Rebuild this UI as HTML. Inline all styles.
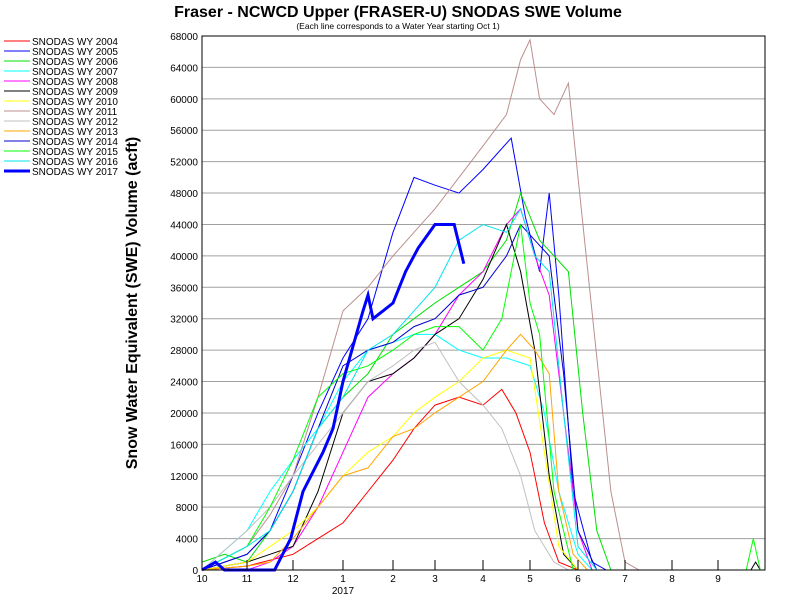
<!DOCTYPE html>
<html><head><meta charset="utf-8"><style>
body{margin:0;background:#fff;width:800px;height:600px;overflow:hidden;font-family:"Liberation Sans",Arial,sans-serif}
</style></head><body>
<svg id="c" width="800" height="600" xmlns="http://www.w3.org/2000/svg" style="font-family:'Liberation Sans',Arial,sans-serif">
<text x="398" y="17" text-anchor="middle" font-size="16" font-weight="bold">Fraser - NCWCD Upper (FRASER-U) SNODAS SWE Volume</text>
<text x="398" y="29" text-anchor="middle" font-size="8.5">(Each line corresponds to a Water Year starting Oct 1)</text>
<text transform="translate(137,303) rotate(-90)" text-anchor="middle" font-size="16" font-weight="bold">Snow Water Equivalent (SWE) Volume (acft)</text>
<g id="grid"></g><g id="series"></g><g id="axes"></g><g id="legend"></g>
</svg>
<script>
const yTicks=[0,4000,8000,12000,16000,20000,24000,28000,32000,36000,40000,44000,48000,52000,56000,60000,64000,68000];
const monthLabels=["10","11","12","1","2","3","4","5","6","7","8","9"];
const monthPx=[202,247,293,343,393,435,483,530,578,625,672,718,765];
const seriesNames=["SNODAS WY 2004","SNODAS WY 2005","SNODAS WY 2006","SNODAS WY 2007","SNODAS WY 2008","SNODAS WY 2009","SNODAS WY 2010","SNODAS WY 2011","SNODAS WY 2012","SNODAS WY 2013","SNODAS WY 2014","SNODAS WY 2015","SNODAS WY 2016","SNODAS WY 2017"];
const colors=["#ff0000","#0000ff","#00e000","#00ffff","#ff00ff","#000000","#ffff00","#bc8f8f","#c0c0c0","#ffa500","#0000cd","#00ff00","#00e5ee","#0000ff"];
// [month index since Oct 1, thousand acft]
const wy2004=[[0,0],[1,0.5],[2,2],[2.5,4],[3,6],[3.5,10],[4,14],[4.5,18],[5,21],[5.5,22],[6,21],[6.4,23],[6.7,20],[7,15],[7.3,6],[7.6,1],[8,0],[12,0]];
const wy2005=[[0,0],[1,2],[1.5,5],[2,12],[2.5,20],[3,27],[3.5,32],[4,43],[4.5,50],[5,49],[5.5,48],[6,51],[6.6,55],[6.9,45],[7.2,38],[7.4,48],[7.6,35],[7.9,10],[8.3,1],[8.6,0],[12,0]];
const wy2006=[[0,1],[0.5,2],[1,1],[1.5,5],[2,10],[2.5,18],[3,22],[3.5,25],[4,30],[4.5,32],[5,34],[5.5,36],[6,38],[6.5,42],[6.8,48],[7.2,42],[7.5,40],[7.8,38],[8.1,20],[8.4,5],[8.7,0],[12,0]];
const wy2007=[[0,0],[1,5],[1.5,10],[2,14],[2.5,18],[3,24],[3.5,28],[4,29],[4.5,30],[5,30],[5.5,28],[6,27],[6.5,27],[7,26],[7.3,20],[7.6,10],[8,2],[8.3,0],[12,0]];
const wy2008=[[0,0],[1,0],[1.5,1],[2,3],[2.5,8],[3,15],[3.5,22],[4,25],[4.5,27],[5,30],[5.5,35],[6,38],[6.5,44],[6.8,46],[7.1,40],[7.4,35],[7.7,20],[8,5],[8.3,0],[12,0]];
const wy2009=[[0,0],[1,1],[1.5,2],[2,3],[2.5,10],[3,20],[3.5,24],[4,25],[4.5,27],[5,30],[5.5,32],[6,37],[6.5,44],[6.8,38],[7.1,28],[7.4,12],[7.7,2],[8,0],[11.7,0],[11.8,1],[11.9,0],[12,0]];
const wy2010=[[0,0],[1,1],[1.5,3],[2,5],[2.5,8],[3,12],[3.5,15],[4,17],[4.5,20],[5,22],[5.5,24],[6,27],[6.5,28],[7,27],[7.3,15],[7.6,3],[8,0],[12,0]];
const wy2011=[[0,0],[1,3],[1.5,7],[2,12],[2.5,22],[3,33],[3.5,36],[4,40],[4.5,43],[5,46],[5.5,50],[6,54],[6.5,58],[6.8,65],[7,67.5],[7.2,60],[7.5,58],[7.8,62],[8,50],[8.35,30],[8.7,10],[9,1],[9.3,0],[12,0]];
const wy2012=[[0,0],[1,5],[1.5,8],[2,12],[2.5,16],[3,20],[3.5,24],[4,26],[4.5,28],[5,29],[5.5,24],[6,21],[6.4,18],[6.8,12],[7.1,5],[7.5,1],[7.8,0],[12,0]];
const wy2013=[[0,0],[1,0.5],[1.5,1],[2,4],[2.5,8],[3,12],[3.5,13],[4,17],[4.5,18],[5,20],[5.5,22],[6,24],[6.5,28],[6.8,30],[7.1,28],[7.4,25],[7.6,10],[7.9,2],[8.2,0],[12,0]];
const wy2014=[[0,0],[1,2],[1.5,5],[2,10],[2.5,18],[3,26],[3.5,28],[4,29],[4.5,31],[5,32],[5.5,35],[6,36],[6.5,40],[6.8,44],[7.1,42],[7.4,40],[7.7,25],[8,5],[8.4,0],[12,0]];
const wy2015=[[0,0],[1,3],[1.5,8],[2,14],[2.5,22],[3,25],[3.5,26],[4,28],[4.5,30],[5,31],[5.5,31],[6,28],[6.4,32],[6.8,44],[7,34],[7.2,30],[7.5,10],[7.9,0],[11.6,0],[11.75,4],[11.9,0],[12,0]];
const wy2016=[[0,0],[1,3],[1.5,5],[2,10],[2.5,18],[3,22],[3.5,28],[4,30],[4.5,33],[5,36],[5.5,42],[6,44],[6.5,43],[6.8,46],[7.1,40],[7.4,38],[7.7,20],[8,3],[8.4,0],[12,0]];
const wy2017=[[0,0],[0.3,1],[0.5,0],[1.6,0],[1.95,4],[2.2,10],[2.6,15],[2.8,18],[3,24],[3.4,33],[3.5,35],[3.6,32],[3.8,33],[4,34],[4.3,38],[4.6,41],[5,44],[5.4,44],[5.6,39]];
const allSeries=[wy2004,wy2005,wy2006,wy2007,wy2008,wy2009,wy2010,wy2011,wy2012,wy2013,wy2014,wy2015,wy2016,wy2017];
const NS="http://www.w3.org/2000/svg";
const X0=202,X1=765,Y0=570,Y1=36,YMAX=68000;
function xScale(m){const i=Math.min(11,Math.floor(m));return monthPx[i]+(m-i)*(monthPx[i+1]-monthPx[i]);}
function yScale(v){return Y0-(v/YMAX)*(Y0-Y1);}
function mk(t,a,p){const e=document.createElementNS(NS,t);for(const k in a)e.setAttribute(k,a[k]);p.appendChild(e);return e;}
const grid=document.getElementById('grid'),axes=document.getElementById('axes'),ser=document.getElementById('series'),leg=document.getElementById('legend');
yTicks.forEach(v=>{const y=yScale(v);
 if(v>0&&v<YMAX){const l=mk('line',{x1:X0,x2:X1,y1:y,y2:y,stroke:'#a0a0a0','stroke-width':1},grid);
 
 }
 const t=mk('text',{x:X0-4,y:y+4,'text-anchor':'end','font-size':10},axes);t.textContent=v;
 
 });
monthLabels.forEach((lab,i)=>{const x=monthPx[i];
 const tk=mk('line',{x1:x,x2:x,y1:Y0,y2:Y0-10,stroke:'#000'},axes);
 
 
 const t=mk('text',{x:x,y:Y0+12,'text-anchor':'middle','font-size':10},axes);t.textContent=lab;
 
 });
const yr=mk('text',{x:monthPx[3],y:Y0+24,'text-anchor':'middle','font-size':10},axes);yr.textContent='2017';


const fr=mk('rect',{x:X0,y:Y1,width:X1-X0,height:Y0-Y1,fill:'none',stroke:'#000','stroke-width':1},axes);


allSeries.forEach((s,i)=>{const d=s.map((p,j)=>(j?'L':'M')+xScale(p[0]).toFixed(1)+' '+yScale(p[1]*1000).toFixed(1)).join(' ');
 const path=mk('path',{d:d,fill:'none',stroke:colors[i],'stroke-width':i==13?3:1},ser);
 
 
 const y=41+i*10;
 const ll=mk('line',{x1:4,x2:30,y1:y,y2:y,stroke:colors[i],'stroke-width':i==13?3:1},leg);
 
 
 const lt=mk('text',{x:32,y:y+4,'font-size':10},leg);lt.textContent=seriesNames[i];
 
 });
</script>
</body></html>
